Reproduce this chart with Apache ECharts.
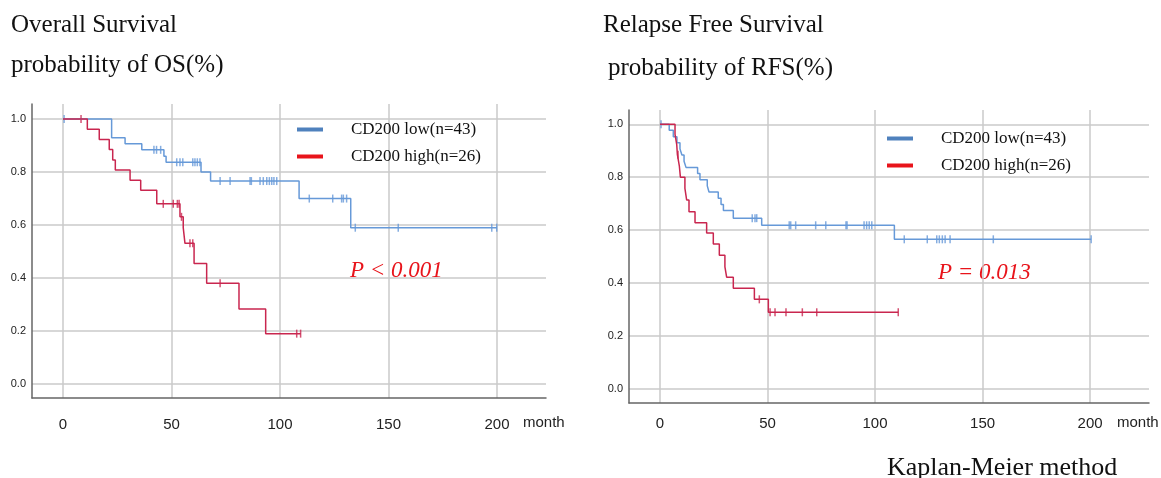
<!DOCTYPE html>
<html>
<head>
<meta charset="utf-8">
<script src="https://cdn.jsdelivr.net/npm/echarts@6/dist/echarts.min.js"></script>
<style>
  html, body { margin: 0; padding: 0; background: #fff; }
  #chart { width: 1161px; height: 478px; }
</style>
</head>
<body>
<div id="chart"></div>
<script>
// tick values
const monthTicks = [0, 50, 100, 150, 200]
const probTicks = [0, 0.2, 0.4, 0.6, 0.8, 1.0]
const groupNames = ['CD200 low(n=43)', 'CD200 high(n=26)']

// Overall survival: [month, survival after event]
const osLowSteps = [[0, 1], [22.4, 0.93], [28.6, 0.907], [36.3, 0.884], [46.5, 0.86], [47.5, 0.837],
  [63.6, 0.8], [68, 0.766], [108.8, 0.7], [132.6, 0.59], [200, 0.59]]
const osLowCensor = [0.5, 41.9, 43.1, 45.0, 52.4, 53.9, 55.2, 59.8, 60.8, 61.9, 63.1, 72.4, 77, 86.2, 86.8,
  90.8, 92.3, 93.9, 95.1, 96.2, 97.2, 98.5, 113.5, 124.3, 128.4, 129.2, 130.7, 134.7, 154.5, 197.6, 199.9]
const osHighSteps = [[0, 1], [11.2, 0.962], [16.7, 0.923], [21.3, 0.885], [22.9, 0.846], [24.1, 0.808],
  [30.9, 0.769], [35.8, 0.731], [43.2, 0.68], [53.9, 0.631], [55.4, 0.59], [56.2, 0.531], [60.4, 0.455],
  [66.2, 0.38], [81.1, 0.283], [93.4, 0.19], [109.5, 0.19]]
const osHighCensor = [8.3, 46.2, 50.8, 52.7, 53.5, 54.6, 58.5, 59.8, 72.4, 107.7, 109.5]

// Relapse free survival
const rfsLowSteps = [[0, 1], [4.3, 0.977], [6.2, 0.953], [7.9, 0.93], [9.3, 0.907], [10.2, 0.884], [11.2, 0.86],
  [12.1, 0.837], [17.5, 0.814], [18.6, 0.79], [22, 0.767], [22.8, 0.744], [27.1, 0.72], [28.4, 0.697],
  [29.5, 0.674], [34.1, 0.645], [47.3, 0.618], [109, 0.565], [200.5, 0.565]]
const rfsLowCensor = [0.5, 42.9, 44.2, 45.0, 60.1, 60.8, 63.1, 72.4, 77.1, 86.5, 87, 94.9, 96.1, 97.3, 98.5,
  113.6, 124.3, 128.7, 129.9, 131.3, 132.6, 134.9, 155, 200.5]
const rfsHighSteps = [[0, 1], [7.0, 0.962], [7.8, 0.923], [8.1, 0.885], [9.0, 0.843], [9.5, 0.8], [11.6, 0.758],
  [12.4, 0.714], [13.5, 0.669], [16.3, 0.628], [21.7, 0.589], [24.8, 0.547], [27.6, 0.505], [30.2, 0.461],
  [31, 0.422], [34.1, 0.38], [43.9, 0.338], [50.4, 0.289], [110.8, 0.289]]
const rfsHighCensor = [8.4, 46.2, 51.2, 53.5, 58.6, 66.2, 72.9, 110.8]

const lowColor = '#6699d8'
const highColor = '#c9264f'
const serif = '"Liberation Serif", "Times New Roman", serif'
const sans = '"Liberation Sans", Arial, sans-serif'

// survival value of the step curve at time t
function survAt(steps, t) {
  let s = steps[0][1]
  for (const p of steps) {
    if (p[0] <= t) s = p[1]
  }
  return s
}
const censorPoints = (steps, times) => times.map(t => [t, survAt(steps, t)])

function xAxis(gridIndex, min, max, margin) {
  return {
    type: 'value', gridIndex, min, max,
    axisLine: { onZero: false, lineStyle: { color: '#666', width: 1.5 } },
    axisTick: { show: false, customValues: monthTicks },
    axisLabel: { customValues: monthTicks, margin, fontFamily: sans, fontSize: 15, color: '#222' },
    splitLine: { show: true, lineStyle: { color: '#cacaca', width: 1.5 } }
  }
}
function yAxis(gridIndex, min, max) {
  return {
    type: 'value', gridIndex, min, max,
    axisLine: { show: true, onZero: false, lineStyle: { color: '#666', width: 1.5 } },
    axisTick: { show: false, customValues: probTicks },
    axisLabel: { customValues: probTicks, margin: 6, fontFamily: sans, fontSize: 11, color: '#222',
      formatter: v => v.toFixed(1) },
    splitLine: { show: true, lineStyle: { color: '#cacaca', width: 1.5 } }
  }
}
function curve(name, steps, color, legendColor, idx) {
  return {
    type: 'line', name, step: 'end', data: steps, xAxisIndex: idx, yAxisIndex: idx,
    showSymbol: false, itemStyle: { color: legendColor },
    lineStyle: { color, width: 1.5 }
  }
}
function censor(steps, times, color, idx) {
  return {
    type: 'scatter', data: censorPoints(steps, times), xAxisIndex: idx, yAxisIndex: idx,
    symbol: 'rect', symbolSize: [1.5, 8], itemStyle: { color }
  }
}
function legend(left, top) {
  return {
    left, top, orient: 'vertical', icon: 'rect', itemWidth: 26, itemHeight: 4, itemGap: 10,
    data: [
      { name: groupNames[0], itemStyle: { color: '#4f81bd' } },
      { name: groupNames[1], itemStyle: { color: '#e8141b' } }
    ],
    textStyle: { fontFamily: serif, fontSize: 17, color: '#111', lineHeight: 17, padding: [0, 0, 0, 23] }
  }
}
function label(text, left, top, size, extra) {
  return Object.assign({
    type: 'text', left, top,
    style: { text, font: size + 'px ' + serif, fill: '#111' }
  }, extra || {})
}

const chart = echarts.init(document.getElementById('chart'))
chart.setOption({
  animation: false,
  grid: [
    { left: 32, top: 104, width: 514, height: 294 },
    { left: 629, top: 110, width: 520, height: 293 }
  ],
  xAxis: [xAxis(0, -14.3, 222.6, 19), xAxis(1, -14.4, 227.4, 13)],
  yAxis: [yAxis(0, -0.053, 1.057), yAxis(1, -0.054, 1.054)],
  legend: [legend(292, 116), legend(882, 125)],
  series: [
    curve(groupNames[0], osLowSteps, lowColor, '#4f81bd', 0),
    curve(groupNames[1], osHighSteps, highColor, '#e8141b', 0),
    censor(osLowSteps, osLowCensor, lowColor, 0),
    censor(osHighSteps, osHighCensor, highColor, 0),
    curve(groupNames[0], rfsLowSteps, lowColor, '#4f81bd', 1),
    curve(groupNames[1], rfsHighSteps, highColor, '#e8141b', 1),
    censor(rfsLowSteps, rfsLowCensor, lowColor, 1),
    censor(rfsHighSteps, rfsHighCensor, highColor, 1)
  ],
  graphic: [
    label('Overall Survival', 11, 13, 25),
    label('probability of OS(%)', 11, 53, 25),
    label('Relapse Free Survival', 603, 13, 25),
    label('probability of RFS(%)', 608, 56, 25),
    label('Kaplan-Meier method', 887, 455, 26),
    { type: 'text', left: 350, top: 259, style: { text: 'P < 0.001', font: 'italic 23px ' + serif, fill: '#e8141b' } },
    { type: 'text', left: 938, top: 261, style: { text: 'P = 0.013', font: 'italic 23px ' + serif, fill: '#e8141b' } },
    { type: 'text', left: 523, top: 415, style: { text: 'month', font: '15px ' + sans, fill: '#222' } },
    { type: 'text', left: 1117, top: 415, style: { text: 'month', font: '15px ' + sans, fill: '#222' } }
  ]
})
</script>
</body>
</html>
